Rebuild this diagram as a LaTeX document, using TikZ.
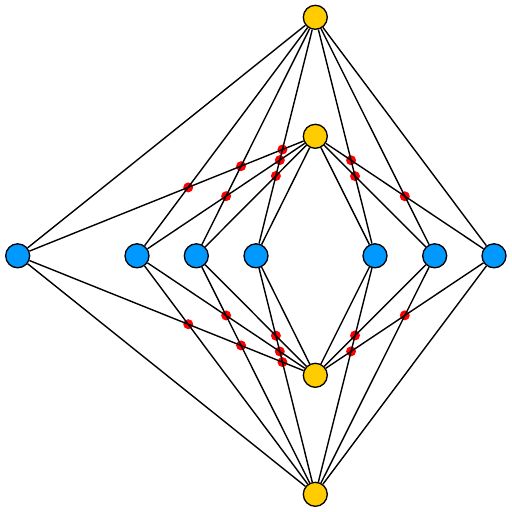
\documentclass[tikz,border=0pt]{standalone}
\begin{document}
\begin{tikzpicture}[x=1pt,y=-1pt,
  vtx/.style={circle,draw=black,line width=1.3pt,minimum size=24pt,inner sep=0pt},
  yel/.style={vtx,fill={rgb,255:red,255;green,204;blue,0}},
  blu/.style={vtx,fill={rgb,255:red,0;green,153;blue,255}},
  edge/.style={draw=black,line width=1.4pt},
  dot/.style={fill={rgb,255:red,255;green,0;blue,0}}]
\useasboundingbox (0,0) rectangle (512,512);
% nodes
\node[yel] (T) at (315.3,17.3) {};
\node[yel] (M) at (315.3,136.3) {};
\node[yel] (N) at (315.3,375.3) {};
\node[yel] (B) at (315.3,494.3) {};
\foreach \i/\x in {1/17.7,2/137,3/196.3,4/256,5/375,6/434.7,7/494}
  \node[blu] (b\i) at (\x,255.8) {};
% crossing dots (top half and mirrored bottom half)
\foreach \x/\y in {275.89/175.94,279.82/160.12,282.46/149.51,226.13/196.16,241.09/166.15,188.23/187.41,355.02/176.12,351.06/160.25,404.81/196.26}{
  \fill[dot] (\x,\y) circle[radius=5pt];
  \fill[dot] (\x,511.6-\y) circle[radius=5pt];
}
% edges
\foreach \i in {1,...,7}{
  \draw[edge] (T) -- (b\i);
  \draw[edge] (M) -- (b\i);
  \draw[edge] (N) -- (b\i);
  \draw[edge] (B) -- (b\i);
}
\end{tikzpicture}
\end{document}
